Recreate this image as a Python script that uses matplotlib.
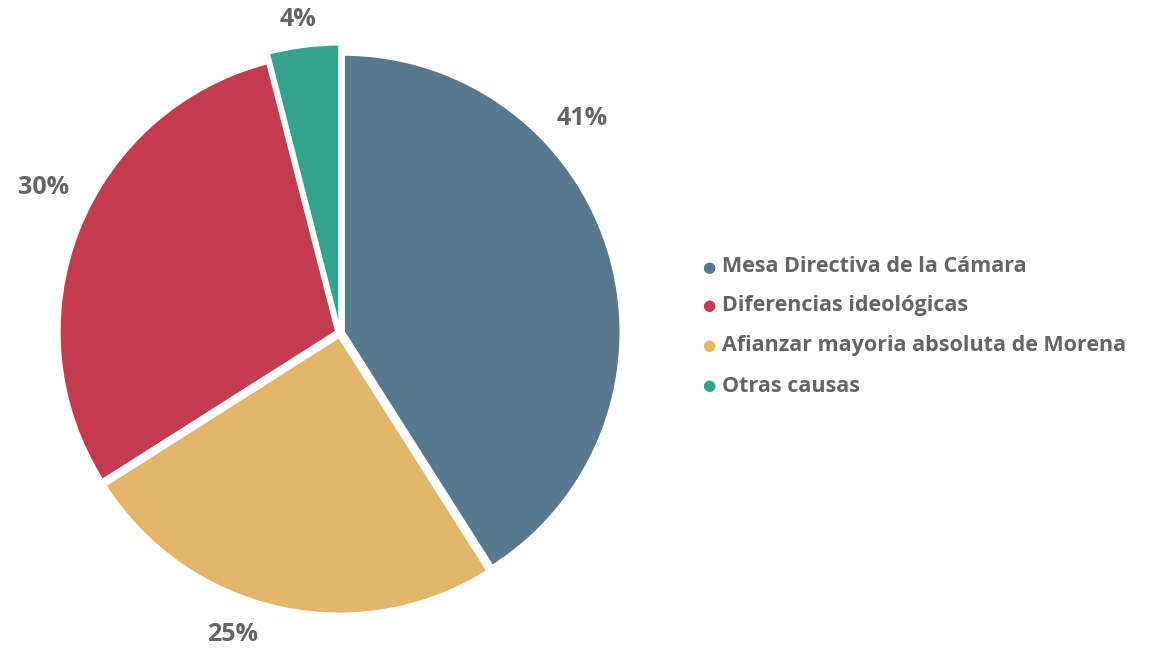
import matplotlib.pyplot as plt

# data
categories = ['Mesa Directiva de la Cámara', 'Diferencias ideológicas',
              'Afianzar mayoria absoluta de Morena', 'Otras causas']
shares = [41, 30, 25, 4]
colors = ['#587890', '#C33B4F', '#E3B56A', '#35A389']

# draw order goes clockwise from 12 o'clock: Mesa, Afianzar, Diferencias, Otras
order = [0, 2, 1, 3]

text_color = '#646464'
plt.rcParams['font.family'] = ['Open Sans', 'DejaVu Sans']

W, H = 1157, 649
fig = plt.figure(figsize=(W / 100, H / 100), dpi=100)

# pie centre (340, 333) px from top-left, radius 278 px
R = 278
cx, cy = 340, H - 333
L = 1.2
side = 2 * L * R
ax = fig.add_axes([(cx - side / 2) / W, (cy - side / 2) / H, side / W, side / H])

vals = [shares[i] for i in order]
cols = [colors[i] for i in order]
wedges, _ = ax.pie(vals, colors=cols, startangle=90, counterclock=False,
                   explode=[0.012, 0.012, 0.012, 0.0], radius=1.0,
                   wedgeprops=dict(edgecolor='white', linewidth=2.5))
wedges[3].set_radius(1.04)
ax.set_xlim(-L, L)
ax.set_ylim(-L, L)
ax.set_aspect('equal')
ax.axis('off')

# percentage labels (positions in data units, radius = 1)
label_pos = {0: (0.870, 0.773), 1: (-1.068, 0.522), 2: (-0.385, -1.086), 3: (-0.151, 1.126)}
for i, v in enumerate(shares):
    x, y = label_pos[i]
    ax.text(x, y, f'{v}%', ha='center', va='center', fontsize=18,
            fontweight='bold', color=text_color, clip_on=False)

# legend
ys = [267, 306, 346, 386]
for i, name in enumerate(categories):
    y = 1 - ys[i] / H
    fig.text(709 / W, y, '\u25CF', ha='center', va='center', fontsize=11,
             color=colors[i], family='DejaVu Sans')
    fig.text(722 / W, y, name, ha='left', va='center', fontsize=15.5,
             fontweight='bold', color=text_color)

fig.savefig('out.png', dpi=100, facecolor='white')
